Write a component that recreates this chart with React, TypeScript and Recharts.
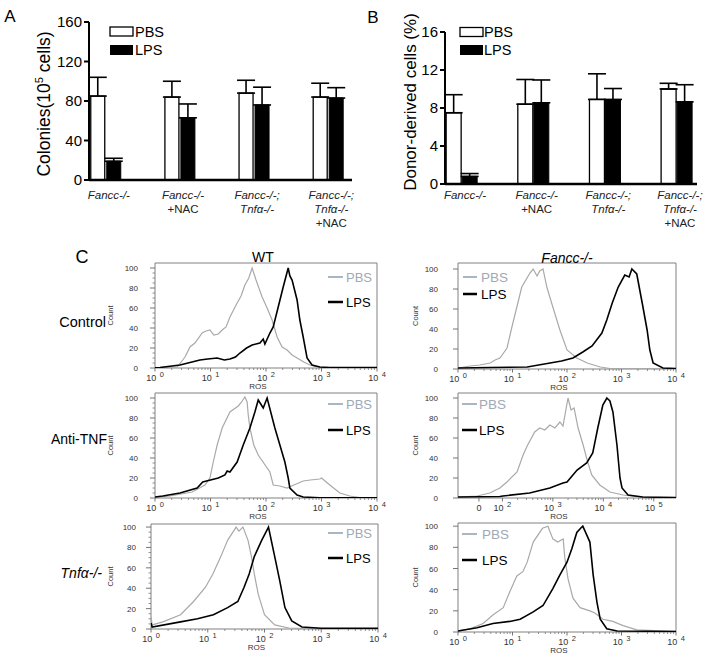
import React from 'react';
import { BarChart, Bar, XAxis, YAxis, ErrorBar, LineChart, Line, ReferenceArea } from 'recharts';

const FONT = '"Liberation Sans", Arial, Helvetica, sans-serif';

// ---------- Panels A & B data ----------
const groupLabels: string[][] = [
  ['Fancc-/-'],
  ['Fancc-/-', '+NAC'],
  ['Fancc-/-;', 'Tnfα-/-'],
  ['Fancc-/-;', 'Tnfα-/-', '+NAC'],
];
const colonyPbs = [85, 84, 88, 84];
const colonyPbsSd = [19, 16, 13, 14];
const colonyLps = [19, 63, 76, 83];
const colonyLpsSd = [3, 14, 18, 10.5];
const colonyTicks = [0, 40, 80, 120, 160];

const donorPbs = [7.5, 8.4, 8.9, 10.0];
const donorPbsSd = [1.9, 2.6, 2.7, 0.6];
const donorLps = [0.8, 8.55, 8.9, 8.65];
const donorLpsSd = [0.3, 2.4, 1.15, 1.8];
const donorTicks = [0, 4, 8, 12, 16];

// ---------- Panel C data (x in display decades, y = count) ----------
type Pt = [number, number];
const wtCtrlPbs: Pt[] = [[0,0.3],[0.4,1],[0.5,8],[0.54,11],[0.63,21],[0.72,25],[0.85,35],[0.92,37],[0.99,38],[1.06,33],[1.14,34],[1.21,38],[1.28,41],[1.35,51],[1.48,65],[1.55,72],[1.62,83],[1.69,90],[1.75,100],[1.82,88],[1.93,71],[2.02,60],[2.11,48],[2.2,31],[2.29,21],[2.38,18],[2.47,13],[2.56,10],[2.68,6],[2.79,3],[2.97,0.5],[4,0.3]];
const wtCtrlLps: Pt[] = [[0,0.3],[0.09,0.5],[0.45,3],[0.81,8],[0.95,9],[1.12,10],[1.25,8],[1.35,9],[1.45,11],[1.53,15],[1.65,20],[1.75,23],[1.89,25],[1.95,29],[1.98,24],[2.07,35],[2.13,41],[2.22,61],[2.31,81],[2.4,100],[2.43,92],[2.47,88],[2.56,68],[2.61,48],[2.67,31],[2.74,10],[2.83,3],[2.97,1],[3.15,0.5],[4,0.5]];
const fcCtrlPbs: Pt[] = [[0,1],[0.22,3],[0.4,4],[0.59,6],[0.68,9],[0.77,11],[0.9,21],[0.98,40],[1.08,62],[1.17,82],[1.32,96],[1.38,100],[1.45,93],[1.5,98],[1.56,100],[1.63,82],[1.74,62],[1.87,39],[2.0,19],[2.18,11],[2.37,6],[2.61,2],[2.79,0.5],[4,0.3]];
const fcCtrlLps: Pt[] = [[0,1],[0.59,1.5],[1.27,2],[1.69,6],[1.9,8],[2.11,11],[2.29,17],[2.46,23],[2.64,36],[2.73,49],[2.83,66],[2.94,82],[3.06,94],[3.14,92],[3.19,100],[3.28,95],[3.38,66],[3.47,39],[3.52,19],[3.58,6],[3.76,1],[4,0.5]];
const wtAntiPbs: Pt[] = [[0,0.5],[0.27,2],[0.67,6],[0.9,13],[0.99,20],[1.05,36],[1.12,53],[1.21,70],[1.35,86],[1.5,92],[1.56,96],[1.62,101],[1.66,96],[1.68,83],[1.71,70],[1.78,53],[1.86,43],[2.07,26],[2.13,13],[2.25,12],[2.38,10],[2.5,13],[2.67,17],[2.8,18],[2.97,19],[3.0,20],[3.15,13],[3.33,5],[3.51,2],[3.69,0.5],[4,0.3]];
const wtAntiLps: Pt[] = [[0,1],[0.14,2],[0.45,5],[0.76,10],[0.86,16],[1.0,18],[1.14,20],[1.26,23],[1.3,27],[1.35,26],[1.48,36],[1.59,53],[1.71,70],[1.8,86],[1.86,98],[1.95,90],[2.02,100],[2.16,70],[2.25,53],[2.34,36],[2.4,20],[2.43,10],[2.56,3],[2.67,1],[2.97,0.3],[4,0.3]];
const fcAntiPbs: Pt[] = [[1.12,1],[1.5,2],[1.75,5],[1.95,10],[2.09,16],[2.29,26],[2.41,43],[2.5,53],[2.64,66],[2.74,70],[2.84,68],[2.94,73],[3.04,70],[3.14,76],[3.2,72],[3.3,100],[3.36,88],[3.42,90],[3.5,70],[3.6,53],[3.69,36],[3.77,23],[3.93,13],[4.13,6],[4.39,3],[4.73,1],[5.12,0.5],[5.44,0.3]];
const fcAntiLps: Pt[] = [[1.12,1],[1.95,1.5],[2.01,2],[2.54,5],[2.94,10],[3.2,15],[3.28,16],[3.48,28],[3.67,35],[3.79,45],[3.89,70],[3.99,93],[4.07,100],[4.13,97],[4.19,86],[4.27,53],[4.33,20],[4.37,10],[4.49,3],[4.78,1],[5.44,0.5]];
const wtKoPbs: Pt[] = [[0,12],[0.02,4],[0.21,7],[0.52,14],[0.75,27],[0.96,41],[1.09,54],[1.23,71],[1.35,87],[1.5,100],[1.55,96],[1.62,100],[1.71,87],[1.77,71],[1.82,54],[1.89,34],[2.0,14],[2.18,4],[2.43,1],[2.7,0.3],[4,0.3]];
const wtKoLps: Pt[] = [[0,6],[0.02,2],[0.52,7],[0.82,10],[1.1,14],[1.35,21],[1.53,27],[1.64,41],[1.73,54],[1.82,71],[1.95,87],[2.07,100],[2.18,71],[2.27,47],[2.36,21],[2.48,8],[2.66,2],[3.0,0.8],[4,0.8]];
const fcKoPbs: Pt[] = [[0,1],[0.22,3],[0.46,8],[0.64,16],[0.83,23],[0.95,38],[1.08,53],[1.19,57],[1.27,66],[1.38,85],[1.55,98],[1.65,100],[1.74,88],[1.83,85],[1.93,88],[1.96,70],[2.02,50],[2.11,32],[2.24,23],[2.42,20],[2.51,18],[2.66,12],[2.84,10],[3.03,6],[3.28,2],[3.7,1],[4,0.5]];
const fcKoLps: Pt[] = [[0,1],[0.35,4],[0.64,8],[0.95,10],[1.14,12],[1.38,19],[1.56,25],[1.74,41],[1.87,54],[2.0,66],[2.09,79],[2.18,94],[2.25,98],[2.29,100],[2.42,85],[2.48,54],[2.55,28],[2.61,12],[2.73,3],[2.92,1],[4,0.5]];

const countTicks = [0, 20, 40, 60, 80, 100];
const logMajor = [{ v: 0, base: '10', sup: '0' }, { v: 1, base: '10', sup: '1' }, { v: 2, base: '10', sup: '2' }, { v: 3, base: '10', sup: '3' }, { v: 4, base: '10', sup: '4' }];
const biexMajor = [{ v: 1.535, base: '0', sup: '' }, { v: 2, base: '10', sup: '2' }, { v: 3, base: '10', sup: '3' }, { v: 4, base: '10', sup: '4' }, { v: 5, base: '10', sup: '5' }];
const minorFactors = [2, 3, 4, 5, 6, 7, 8, 9];
const logMinor = [0, 1, 2, 3].flatMap(d => minorFactors.map(k => d + Math.log10(k)));
const biexMinor = [2, 3, 4].flatMap(d => minorFactors.map(k => d + Math.log10(k)));

const PBS_LINE = '#a9a9a9';
const PBS_LEGEND_LINE = '#a9b6c4';
const PBS_LEGEND_TEXT = '#9fa9b4';

// ---------- Bar charts ----------
function makeCatTick(baseDy: number, dx: number) {
  return (p: any) => {
    const lines = groupLabels[Math.round(p.payload.value)] || [];
    return (
      <g>
        {lines.map((t, i) => (
          <text key={i} x={p.x + dx} y={p.y + baseDy + i * 14} textAnchor="middle" fontSize={11.5}
            fontStyle={t.startsWith('+') ? 'normal' : 'italic'} fill="#222" fontFamily={FONT}>{t}</text>
        ))}
      </g>
    );
  };
}

function GroupBars(props: { pbs: number[]; pbsSd: number[]; lps: number[]; lpsSd: number[]; ticks: number[]; ymax: number;
  left: number; width: number; height: number; top: number; yw: number; right: number; xh: number; domain: [number, number];
  barSize: number; barGap: number; tickDy: number; label: React.ReactNode }) {
  const rows = props.pbs.map((v, i) => ({ x: i, pbs: v, pbsErr: [0, props.pbsSd[i]], lps: props.lps[i], lpsErr: [0, props.lpsSd[i]] }));
  return (
    <div style={{ position: 'absolute', left: props.left, top: 0 }}>
      <BarChart width={props.width} height={props.height} data={rows} barSize={props.barSize} barGap={props.barGap}
        margin={{ top: props.top, right: props.right, bottom: 0, left: 0 }}>
        <XAxis type="number" dataKey="x" domain={props.domain} ticks={[0, 1, 2, 3]} interval={0} allowDataOverflow
          tickLine={false} tickSize={0} tickMargin={0} height={props.xh}
          axisLine={{ stroke: '#000', strokeWidth: 2.5 }} tick={makeCatTick(props.tickDy, 3)} />
        <YAxis type="number" domain={[0, props.ymax]} ticks={props.ticks} interval={0} width={props.yw}
          tickSize={5} tickMargin={2} axisLine={{ stroke: '#000', strokeWidth: 2 }} tickLine={{ stroke: '#000', strokeWidth: 2 }}
          tick={{ fontSize: 15, fill: '#000', fontFamily: FONT }} label={{ content: () => props.label }} />
        <Bar dataKey="pbs" fill="#fff" stroke="#000" strokeWidth={1.3} isAnimationActive={false}>
          <ErrorBar dataKey="pbsErr" width={9} stroke="#000" strokeWidth={1.6} direction="y" />
        </Bar>
        <Bar dataKey="lps" fill="#000" stroke="#000" strokeWidth={1} isAnimationActive={false}>
          <ErrorBar dataKey="lpsErr" width={9} stroke="#000" strokeWidth={1.6} direction="y" />
        </Bar>
      </BarChart>
    </div>
  );
}

// ---------- Histograms ----------
interface HistCfg {
  left: number; top: number; width: number; height: number; ymax: number; xDomain: [number, number];
  major: { v: number; base: string; sup: string }[]; minor: number[]; yMinor: boolean; labelGap: number;
  countGap: number; pbs: Pt[]; lps: Pt[];
  legend: { x1: number; x2: number; tx: number; py: number; ly: number; fs: number };
}

const ML = 70, MT = 10, MR = 14, MB = 34;

function Histogram({ cfg }: { cfg: HistCfg }) {
  const majors = cfg.major.map(m => m.v);
  const xTicks = [...majors, ...cfg.minor].sort((a, b) => a - b);
  const yTicks = cfg.yMinor ? Array.from({ length: 21 }, (_, i) => i * 5) : countTicks;
  const xTick = (p: any) => {
    const v = p.payload.value;
    const m = cfg.major.find(mm => Math.abs(mm.v - v) < 1e-6);
    if (!m) return <line x1={p.x} x2={p.x} y1={p.y} y2={p.y + 2} stroke="#777" strokeWidth={0.8} />;
    return (
      <g>
        <line x1={p.x} x2={p.x} y1={p.y} y2={p.y + 3.5} stroke="#666" strokeWidth={0.9} />
        <text x={p.x} y={p.y + 13} textAnchor="middle" fontSize={9} fill="#333" fontFamily={FONT}>
          {m.base}{m.sup ? <tspan dx={3.5} dy={-4} fontSize={7.5}>{m.sup}</tspan> : null}
        </text>
      </g>
    );
  };
  const yTick = (p: any) => {
    const v = p.payload.value;
    const major = countTicks.includes(v);
    if (!major) return <line x1={p.x} x2={p.x - 2.5} y1={p.y} y2={p.y} stroke="#777" strokeWidth={0.8} />;
    return (
      <g>
        <line x1={p.x} x2={p.x - 5} y1={p.y} y2={p.y} stroke="#666" strokeWidth={0.9} />
        <text x={p.x - cfg.labelGap} y={p.y + 3} textAnchor="end" fontSize={8} fill="#333" fontFamily={FONT}>{v}</text>
      </g>
    );
  };
  const plotCx = ML + cfg.width / 2;
  const plotCy = MT + cfg.height / 2;
  return (
    <div style={{ position: 'absolute', left: cfg.left - ML, top: cfg.top - MT }}>
      <LineChart width={cfg.width + ML + MR} height={cfg.height + MT + MB} margin={{ top: MT, right: MR, bottom: MB - 1, left: ML - 1 }}>
        <XAxis type="number" dataKey="x" domain={cfg.xDomain} ticks={xTicks} interval={0} allowDataOverflow
          tickSize={0} tickMargin={0} tickLine={false} axisLine={false} height={1} tick={xTick}
          label={{ content: () => <text x={plotCx - 8} y={MT + cfg.height + 20.5} textAnchor="middle" fontSize={8} fill="#333" fontFamily={FONT}>ROS</text> }} />
        <YAxis type="number" domain={[0, cfg.ymax]} ticks={yTicks} interval={0} allowDataOverflow
          tickSize={0} tickMargin={0} tickLine={false} axisLine={false} width={1} tick={yTick}
          label={{ content: () => <text x={ML - cfg.countGap} y={plotCy} transform={`rotate(-90 ${ML - cfg.countGap} ${plotCy})`} textAnchor="middle" fontSize={7.5} fill="#333" fontFamily={FONT}>Count</text> }} />
        <ReferenceArea x1={cfg.xDomain[0]} x2={cfg.xDomain[1]} y1={0} y2={cfg.ymax} fill="none" fillOpacity={0} stroke="#808080" strokeWidth={1} ifOverflow="visible" />
        <Line data={cfg.pbs.map(([x, y]) => ({ x, y }))} dataKey="y" type="linear" dot={false} stroke={PBS_LINE} strokeWidth={1.2} isAnimationActive={false} />
        <Line data={cfg.lps.map(([x, y]) => ({ x, y }))} dataKey="y" type="linear" dot={false} stroke="#000" strokeWidth={1.6} isAnimationActive={false} />
      </LineChart>
    </div>
  );
}

const histCfgs: HistCfg[] = [
  { left: 155, top: 263, width: 222, height: 105, ymax: 105, xDomain: [0, 4], major: logMajor, minor: logMinor, yMinor: true, labelGap: 17, countGap: 42, pbs: wtCtrlPbs, lps: wtCtrlLps, legend: { x1: 328, x2: 343, tx: 346, py: 277, ly: 302, fs: 13 } },
  { left: 458, top: 263, width: 218, height: 106, ymax: 106, xDomain: [0, 4], major: logMajor, minor: logMinor, yMinor: false, labelGap: 20, countGap: 40, pbs: fcCtrlPbs, lps: fcCtrlLps, legend: { x1: 463, x2: 477, tx: 481, py: 277, ly: 294, fs: 13.5 } },
  { left: 155, top: 393, width: 222, height: 105, ymax: 105, xDomain: [0, 4], major: logMajor, minor: logMinor, yMinor: true, labelGap: 17, countGap: 42, pbs: wtAntiPbs, lps: wtAntiLps, legend: { x1: 328, x2: 343, tx: 346, py: 404, ly: 430, fs: 13 } },
  { left: 458, top: 393, width: 218, height: 105, ymax: 105, xDomain: [1.12, 5.44], major: biexMajor, minor: biexMinor, yMinor: false, labelGap: 20, countGap: 40, pbs: fcAntiPbs, lps: fcAntiLps, legend: { x1: 462, x2: 477, tx: 479, py: 404, ly: 430, fs: 13.5 } },
  { left: 151, top: 524, width: 227, height: 105, ymax: 103, xDomain: [0, 4], major: logMajor, minor: logMinor, yMinor: true, labelGap: 15, countGap: 38, pbs: wtKoPbs, lps: wtKoLps, legend: { x1: 328, x2: 343, tx: 346, py: 533, ly: 558, fs: 13 } },
  { left: 458, top: 523, width: 218, height: 109, ymax: 103, xDomain: [0, 4], major: logMajor, minor: logMinor, yMinor: false, labelGap: 20, countGap: 40, pbs: fcKoPbs, lps: fcKoLps, legend: { x1: 462, x2: 477, tx: 482, py: 534, ly: 560, fs: 13.5 } },
];

export default function App() {
  const labelA = (
    <text x={44} y={104} transform="rotate(-90 44 104)" textAnchor="middle" dy={6} fontSize={17.5} fill="#000" fontFamily={FONT}>
      Colonies(10<tspan dy={-7} fontSize={11}>5</tspan><tspan dy={7}> cells)</tspan>
    </text>
  );
  const labelB = (
    <text x={60} y={102} transform="rotate(-90 60 102)" textAnchor="middle" dy={6} fontSize={17} fill="#000" fontFamily={FONT}>
      Donor-derived cells (%)
    </text>
  );
  return (
    <div style={{ position: 'absolute', left: 0, top: 0, width: 708, height: 658, background: '#fff', fontFamily: FONT }}>
      <GroupBars pbs={colonyPbs} pbsSd={colonyPbsSd} lps={colonyLps} lpsSd={colonyLpsSd} ticks={colonyTicks} ymax={160}
        left={0} width={360} height={238} top={22} yw={89} right={8} xh={58} domain={[-0.227, 3.32]}
        barSize={14} barGap={2} tickDy={19} label={labelA} />
      <GroupBars pbs={donorPbs} pbsSd={donorPbsSd} lps={donorLps} lpsSd={donorLpsSd} ticks={donorTicks} ymax={16}
        left={350} width={358} height={238} top={32} yw={95} right={11} xh={54} domain={[-0.237, 3.28]}
        barSize={15} barGap={1} tickDy={15} label={labelB} />
      {histCfgs.map((c, i) => <Histogram key={i} cfg={c} />)}
      <svg width={708} height={658} style={{ position: 'absolute', left: 0, top: 0, pointerEvents: 'none' }} fontFamily={FONT}>
        <text x={10} y={22} textAnchor="middle" fontSize={17}>A</text>
        <text x={373} y={23} textAnchor="middle" fontSize={17}>B</text>
        <text x={82} y={263} textAnchor="middle" fontSize={18}>C</text>
        <rect x={110} y={27} width={23} height={9} fill="#fff" stroke="#000" strokeWidth={1.3} />
        <text x={135} y={36.5} fontSize={14.5}>PBS</text>
        <rect x={110} y={45} width={23} height={10} fill="#000" />
        <text x={135} y={55} fontSize={14.5}>LPS</text>
        <rect x={460} y={27.5} width={23} height={9} fill="#fff" stroke="#000" strokeWidth={1.3} />
        <text x={484} y={37} fontSize={14.5}>PBS</text>
        <rect x={460} y={45} width={23} height={10} fill="#000" />
        <text x={484} y={55} fontSize={14.5}>LPS</text>
        <text x={263} y={262} textAnchor="middle" fontSize={14}>WT</text>
        <text x={567} y={263} textAnchor="middle" fontSize={14} fontStyle="italic">Fancc-/-</text>
        <text x={106} y={327} textAnchor="end" fontSize={14.5}>Control</text>
        <text x={107} y={444} textAnchor="end" fontSize={14}>Anti-TNF</text>
        <text x={102} y={578} textAnchor="end" fontSize={14} fontStyle="italic">Tnfα-/-</text>
        {histCfgs.map((c, i) => (
          <g key={i}>
            <line x1={c.legend.x1} x2={c.legend.x2} y1={c.legend.py} y2={c.legend.py} stroke={PBS_LEGEND_LINE} strokeWidth={2} />
            <text x={c.legend.tx} y={c.legend.py + 5} fontSize={c.legend.fs} fill={PBS_LEGEND_TEXT}>PBS</text>
            <line x1={c.legend.x1} x2={c.legend.x2} y1={c.legend.ly} y2={c.legend.ly} stroke="#000" strokeWidth={2.5} />
            <text x={c.legend.tx} y={c.legend.ly + 5} fontSize={c.legend.fs} fill="#000">LPS</text>
          </g>
        ))}
      </svg>
    </div>
  );
}
